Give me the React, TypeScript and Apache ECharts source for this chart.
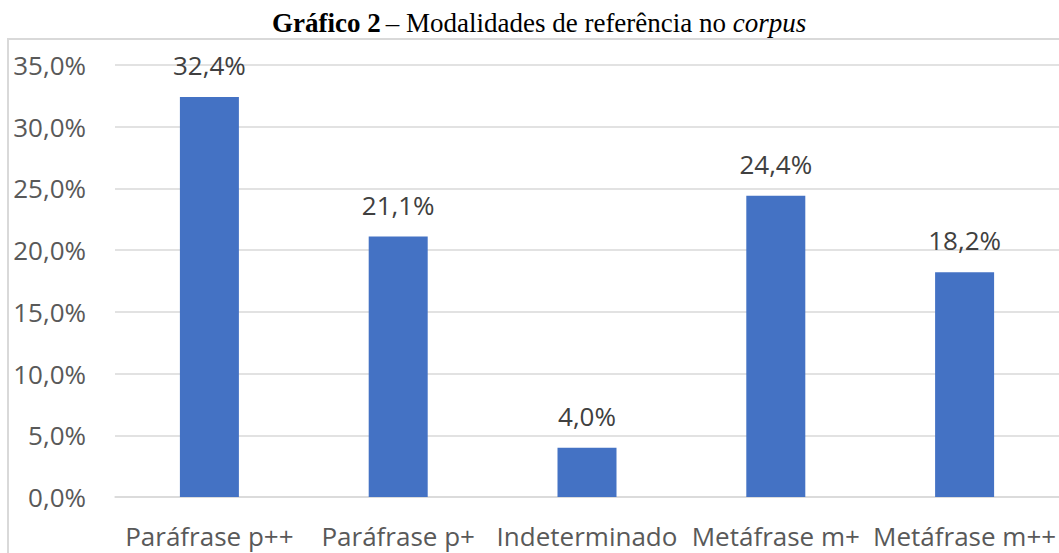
import React, { useEffect, useRef } from "react";
import * as echarts from "echarts";

const categories = ["Paráfrase p++", "Paráfrase p+", "Indeterminado", "Metáfrase m+", "Metáfrase m++"];
const values = [32.4, 21.1, 4.0, 24.4, 18.2];
const yTicks = { min: 0, max: 35, interval: 5 };

const fmt = (v: number) => v.toFixed(1).replace(".", ",") + "%";

export default function App() {
  const ref = useRef<HTMLDivElement>(null);
  useEffect(() => {
    if (!ref.current) return;
    const chart = echarts.init(ref.current, null, { renderer: "svg" });
    chart.setOption({
      animation: false,
      backgroundColor: "#ffffff",
      title: {
        left: 267,
        top: 4,
        text: "{b|Gráfico 2} {r|– Modalidades de referência no }{i|corpus}",
        textStyle: {
          fontWeight: "normal",
          rich: {
            b: { fontFamily: "Liberation Serif", fontWeight: "bold", fontSize: 27, color: "#000" },
            r: { fontFamily: "Liberation Serif", fontWeight: "normal", fontSize: 27, color: "#000" },
            i: { fontFamily: "Liberation Serif", fontWeight: "normal", fontStyle: "italic", fontSize: 27, color: "#000" },
          },
        },
      },
      graphic: [
        {
          type: "rect",
          shape: { x: 8, y: 39, width: 1060, height: 530 },
          style: { fill: "none", stroke: "#d9d9d9", lineWidth: 2 },
          silent: true,
        },
      ],
      grid: { left: 115, top: 65, width: 947, height: 432 },
      xAxis: {
        type: "category",
        data: categories,
        axisTick: { show: false },
        axisLine: { lineStyle: { color: "#d9d9d9", width: 1.5 } },
        axisLabel: { color: "#595959", fontSize: 26, fontFamily: "Open Sans", margin: 26, interval: 0 },
      },
      yAxis: {
        type: "value",
        min: yTicks.min,
        max: yTicks.max,
        interval: yTicks.interval,
        axisLabel: { color: "#595959", fontSize: 26, fontFamily: "Open Sans", margin: 29, formatter: fmt },
        splitLine: { lineStyle: { color: "#d9d9d9", width: 1.5 } },
        axisLine: { show: false },
        axisTick: { show: false },
      },
      series: [
        {
          type: "bar",
          data: values,
          barWidth: 59,
          itemStyle: { color: "#4472C4" },
          label: {
            show: true,
            position: "top",
            distance: 19,
            color: "#404040",
            fontSize: 26,
            fontFamily: "Open Sans",
            formatter: (p: any) => fmt(p.value),
          },
        },
      ],
    });
    return () => chart.dispose();
  }, []);
  return (
    <div
      ref={ref}
      style={{ position: "fixed", left: 0, top: 0, width: 1059, height: 553 }}
    />
  );
}
